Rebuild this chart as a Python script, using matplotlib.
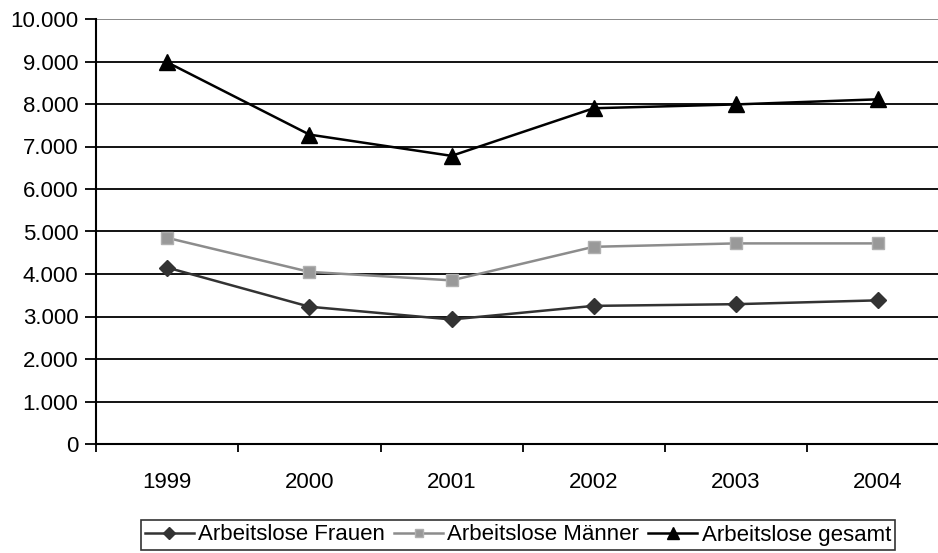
import matplotlib.pyplot as plt
from matplotlib.ticker import FuncFormatter, MultipleLocator

plt.rcParams['font.family'] = ['Liberation Sans', 'DejaVu Sans']

years = ["1999", "2000", "2001", "2002", "2003", "2004"]
frauen = [4150, 3230, 2930, 3250, 3290, 3380]
maenner = [4850, 4050, 3850, 4640, 4720, 4720]
gesamt = [8980, 7280, 6780, 7900, 7990, 8110]


def de_thousands(value, pos):
    return f"{int(value):,}".replace(",", ".")


fig = plt.figure(figsize=(9.38, 5.53), dpi=100)
ax = fig.add_axes([96.3 / 938, 1 - 444 / 553, 852.6 / 938, 425 / 553])

x = list(range(len(years)))
ax.plot(x, frauen, color="#333333", lw=1.8, marker="D", markersize=8.5,
        markerfacecolor="#333333", markeredgecolor="#333333",
        label="Arbeitslose Frauen", zorder=3)
ax.plot(x, maenner, color="#8c8c8c", lw=1.8, marker="s", markersize=8.5,
        markerfacecolor="#999999", markeredgecolor="#b0b0b0",
        label="Arbeitslose Männer", zorder=3)
ax.plot(x, gesamt, color="black", lw=1.8, marker="^", markersize=11,
        markerfacecolor="black", markeredgecolor="black",
        label="Arbeitslose gesamt", zorder=4)

ax.set_xlim(-0.5, len(years) - 0.5)
ax.set_ylim(0, 10000)
ax.yaxis.set_major_locator(MultipleLocator(1000))
ax.yaxis.set_major_formatter(FuncFormatter(de_thousands))

# horizontal gridlines, the top one lighter
for v in range(1000, 10001, 1000):
    ax.axhline(v, color="#808080" if v == 10000 else "black", lw=1.3, zorder=1)

ax.set_xticks(x)
ax.set_xticklabels(years)
ax.set_xticks([i + 0.5 for i in range(len(years) - 1)] + [-0.5], minor=True)
ax.tick_params(axis="x", which="major", length=0, pad=20, labelsize=16)
ax.tick_params(axis="x", which="minor", length=6, width=1.3, direction="out")
ax.tick_params(axis="y", length=8, width=1.3, direction="out", pad=5, labelsize=16)

for side in ("top", "right"):
    ax.spines[side].set_visible(False)
for side in ("left", "bottom"):
    ax.spines[side].set_linewidth(1.5)

leg = fig.legend(loc="center", bbox_to_anchor=(518 / 938, 1 - 535 / 553), ncol=3,
                 fontsize=16, frameon=True, fancybox=False, edgecolor="black",
                 handlelength=2.2, handletextpad=0.2, columnspacing=0.4,
                 borderpad=0.2, markerscale=0.75, borderaxespad=0)
leg.get_frame().set_linewidth(1.2)

fig.savefig("out.png", dpi=100)
